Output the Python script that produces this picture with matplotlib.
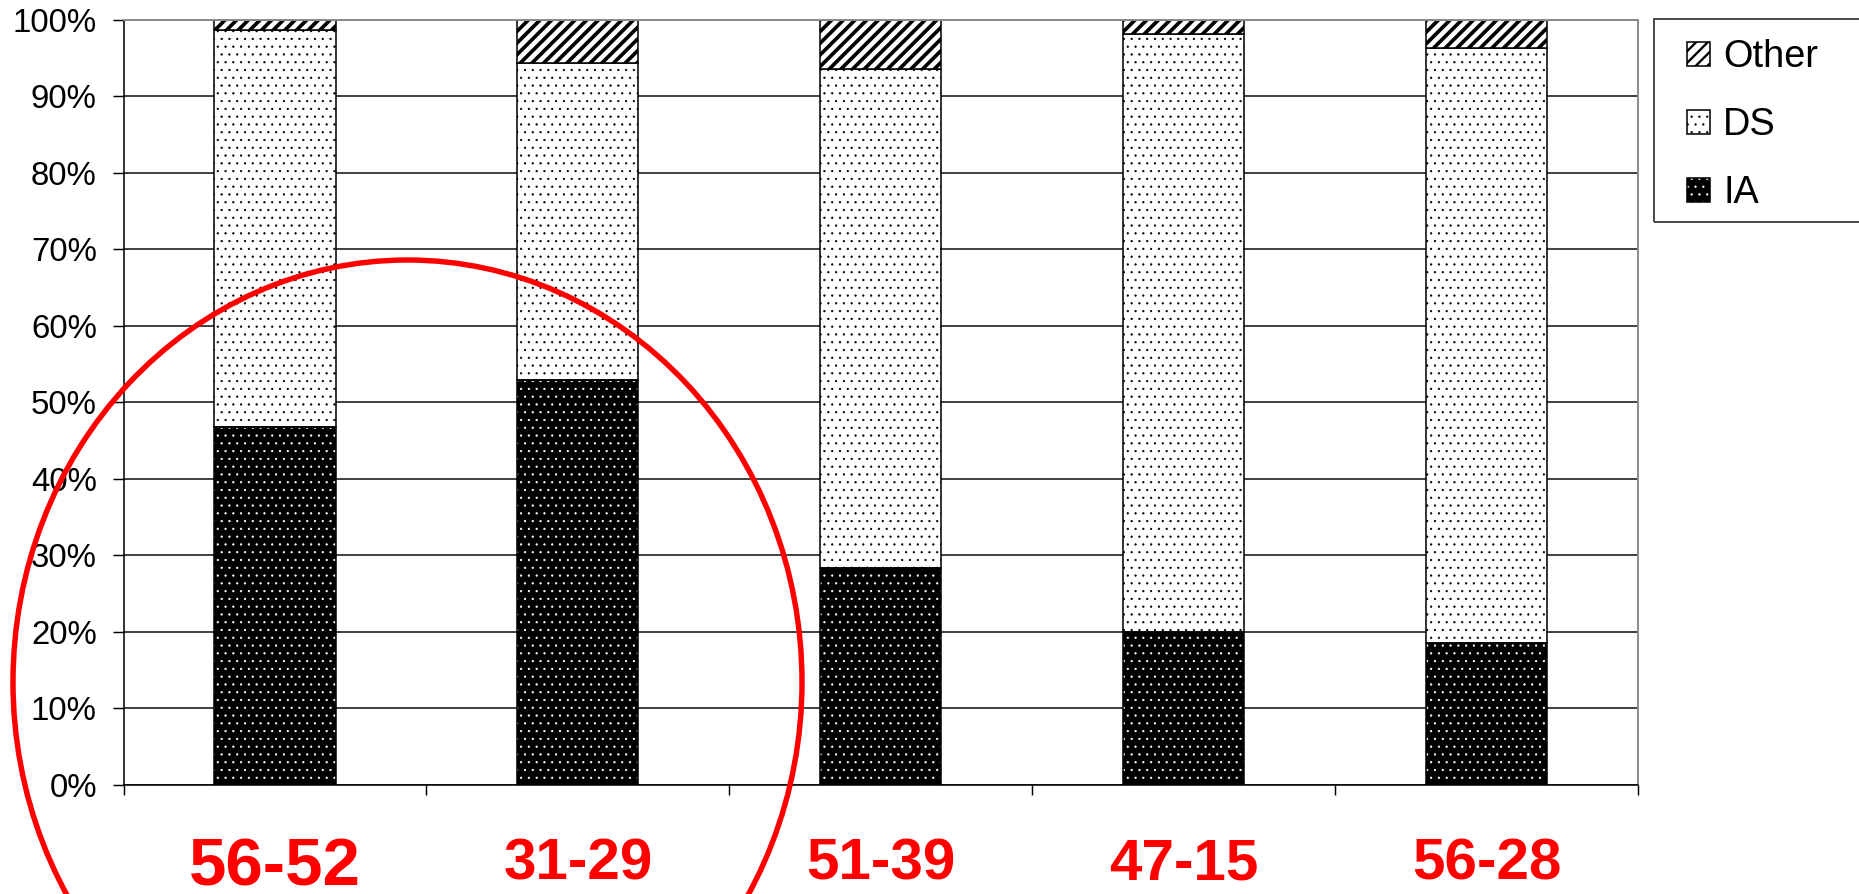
import matplotlib
matplotlib.use("Agg")
import matplotlib.pyplot as plt
from matplotlib.patches import Patch, Ellipse, Rectangle
from matplotlib.legend_handler import HandlerTuple
from matplotlib.transforms import blended_transform_factory

# ---- data -------------------------------------------------------------
categories = ["56-52", "31-29", "51-39", "47-15", "56-28"]
ia = [46.7, 52.9, 28.3, 19.9, 18.5]
ds = [52.0, 41.4, 65.3, 78.2, 77.8]
other = [1.3, 5.7, 6.4, 1.9, 3.7]
y_ticks = [0, 10, 20, 30, 40, 50, 60, 70, 80, 90, 100]
y_tick_labels = ["0%", "10%", "20%", "30%", "40%", "50%", "60%", "70%", "80%", "90%", "100%"]
series_names = ["Other", "DS", "IA"]

# ---- figure setup -----------------------------------------------------
DPI = 140
W, H = 1859, 894
plt.rcParams["font.family"] = ["Liberation Sans", "DejaVu Sans"]
plt.rcParams["hatch.linewidth"] = 1.0

DOT_LW = 0.35     # hatch stroke for the dotted fills
STRIPE_LW = 1.9   # hatch stroke for the diagonal stripes
DOTS, STRIPES = "...", "////"


def hatch_lw(artists, lw):
    """Give each patch its own hatch stroke width."""
    for p in artists:
        p.set_hatch_linewidth(lw)


fig = plt.figure(figsize=(W / DPI, H / DPI), dpi=DPI)
fig.patch.set_facecolor("white")

left_px, right_px, top_px, bottom_px = 123.5, 1638.0, 19.6, 784.6
ax = fig.add_axes([left_px / W, 1 - bottom_px / H,
                   (right_px - left_px) / W, (bottom_px - top_px) / H])

x = list(range(len(categories)))
bar_w = 0.4
ds_bottom = ia
other_bottom = [a + b for a, b in zip(ia, ds)]

# IA: black with white dots
ia_fill = ax.bar(x, ia, bar_w, color="black", edgecolor="white", hatch=DOTS,
                 linewidth=0, zorder=2)
hatch_lw(ia_fill, DOT_LW)
ax.bar(x, ia, bar_w, fill=False, edgecolor="black", linewidth=0.8, zorder=3)

# DS: white with black dots
ds_bars = ax.bar(x, ds, bar_w, bottom=ds_bottom, facecolor="white",
                 edgecolor="black", hatch=DOTS, linewidth=0.8, zorder=2)
hatch_lw(ds_bars, DOT_LW)

# Other: diagonal stripes
ot_bars = ax.bar(x, other, bar_w, bottom=other_bottom, facecolor="white",
                 edgecolor="black", hatch=STRIPES, linewidth=0.8, zorder=2)
hatch_lw(ot_bars, STRIPE_LW)

# ---- axes styling -----------------------------------------------------
ax.set_xlim(-0.5, len(categories) - 0.5)
ax.set_ylim(0, 100)
ax.set_yticks(y_ticks)
ax.set_yticklabels(y_tick_labels, fontsize=17, color="black")
ax.set_xticks([i - 0.5 for i in range(len(categories) + 1)])
ax.set_xticklabels([])
ax.tick_params(axis="y", direction="out", length=5.7, width=0.75, pad=8)
ax.tick_params(axis="x", direction="out", length=5.0, width=0.75)

ax.set_axisbelow(True)
ax.yaxis.grid(True, color="#111111", linewidth=0.8)
ax.xaxis.grid(False)
for side in ("left", "bottom"):
    ax.spines[side].set_color("black")
    ax.spines[side].set_linewidth(0.8)
for side in ("top", "right"):
    ax.spines[side].set_color("#8a8a8a")
    ax.spines[side].set_linewidth(1.0)

# ---- legend -----------------------------------------------------------
h_other = Patch(facecolor="white", edgecolor="black", hatch=STRIPES, linewidth=0.8)
h_ds = Patch(facecolor="white", edgecolor="black", hatch=DOTS, linewidth=0.8)
h_ia_fill = Patch(facecolor="black", edgecolor="white", hatch=DOTS, linewidth=0)
h_ia_edge = Patch(fill=False, edgecolor="black", linewidth=0.8)
leg = fig.legend([h_other, h_ds, (h_ia_fill, h_ia_edge)], series_names,
                 handler_map={tuple: HandlerTuple(ndivide=1, pad=0)},
                 loc="upper left", bbox_to_anchor=(1687 / W, 1 - 39 / H),
                 bbox_transform=fig.transFigure, frameon=False,
                 fontsize=19.5, borderpad=0, borderaxespad=0,
                 handlelength=0.6, handleheight=0.6, handletextpad=0.35,
                 labelspacing=0.85)
for h in leg.legend_handles:
    hatch = h.get_hatch() or ""
    if "/" in hatch:
        h.set_hatch_linewidth(1.2)
    elif "." in hatch:
        h.set_hatch_linewidth(DOT_LW)
fig.add_artist(Rectangle((1654 / W, 1 - 222 / H), (1900 - 1654) / W, (222 - 19) / H,
                         transform=fig.transFigure, fill=False,
                         edgecolor="#333333", linewidth=0.9, clip_on=False))

# ---- category labels under the axis -----------------------------------
lab_tr = blended_transform_factory(ax.transData, fig.transFigure)
for i, name in enumerate(categories):
    size = 34.5 if i == 0 else 30
    base = 886 if i == 0 else 880
    fig.text(i, 1 - base / H, name, transform=lab_tr, ha="center", va="baseline",
             fontsize=size, fontweight="bold", color="#ff0000")

# ---- highlight ring ---------------------------------------------------
fig.add_artist(Ellipse((407.5 / W, 1 - 682 / H), 789 / W, 844 / H,
                       transform=fig.transFigure, fill=False,
                       edgecolor="#ff0000", linewidth=2.8, zorder=10, clip_on=False))

fig.savefig("out.png", dpi=DPI, facecolor="white")
